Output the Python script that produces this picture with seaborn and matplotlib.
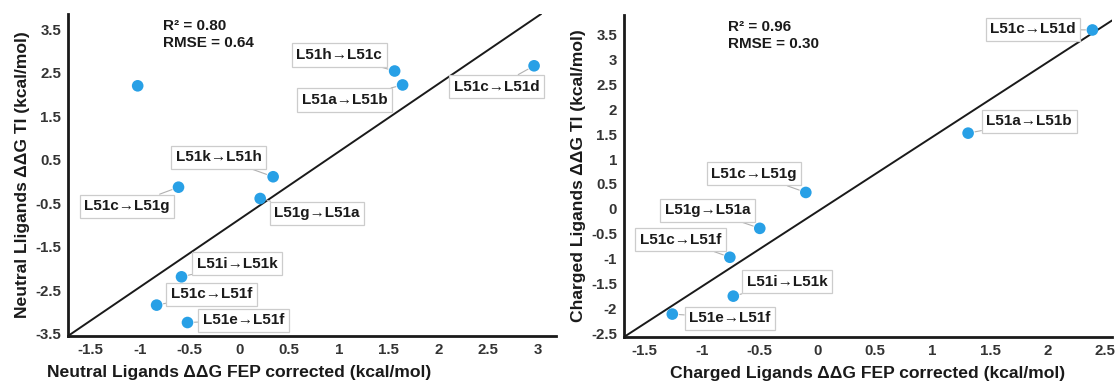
import numpy as np
import pandas as pd
import matplotlib
matplotlib.use("Agg")
import matplotlib.pyplot as plt
from matplotlib.ticker import FuncFormatter
import seaborn as sns

# Neutral ligands panel
neutral_labels = ["", "L51h→L51c", "L51a→L51b", "L51c→L51d", "L51k→L51h",
                  "L51c→L51g", "L51g→L51a", "L51i→L51k", "L51c→L51f", "L51e→L51f"]
neutral_fep = [-1.02, 1.56, 1.64, 2.96, 0.34, -0.61, 0.21, -0.58, -0.83, -0.52]
neutral_ti = [2.20, 2.54, 2.22, 2.66, 0.11, -0.13, -0.39, -2.19, -2.84, -3.24]
neutral_stats = ["R² = 0.80", "RMSE = 0.64"]
neutral_line_x = [-1.72, 3.03]
neutral_line_y = [-3.55, 3.85]

# Charged ligands panel
charged_labels = ["L51c→L51d", "L51a→L51b", "L51c→L51g", "L51g→L51a",
                  "L51c→L51f", "L51i→L51k", "L51e→L51f"]
charged_fep = [2.39, 1.31, -0.10, -0.50, -0.76, -0.73, -1.26]
charged_ti = [3.59, 1.52, 0.33, -0.39, -0.97, -1.75, -2.11]
charged_stats = ["R² = 0.96", "RMSE = 0.30"]
charged_line_x = [-1.68, 2.56]
charged_line_y = [-2.57, 3.78]

# label offsets (points) relative to each marker
neutral_offsets = [None, (-40, 11.5), (-41.6, -10.8), (-27, -15), (-39, 14),
                   (-37, -13.7), (40.8, -10.6), (40, 9.4), (39.7, 7.9), (40.3, 1.7)]
charged_offsets = [(-42.8, 0.5), (44, 8.4), (-37.4, 13.4), (-37.7, 13),
                   (-35.4, 12.7), (38.7, 10.3), (41.5, -2.9)]

DOT = "#28a0e6"
FONTS = ["Liberation Sans", "DejaVu Sans"]


def fmt(v, pos):
    return f"{v:g}"


def draw_panel(ax, fep, ti, labels, offsets, stats, line_x, line_y,
               xlim, ylim, xticks, yticks, xlabel, ylabel, xlabel_x):
    df = pd.DataFrame({"FEP": fep, "TI": ti, "Label": labels})
    ax.plot(line_x, line_y, color="#1a1a1a", lw=1.4, zorder=1)
    sns.scatterplot(data=df, x="FEP", y="TI", ax=ax, color=DOT, s=70,
                    edgecolor="none", zorder=3)
    for (_, row), off in zip(df.iterrows(), offsets):
        if not row["Label"]:
            continue
        ax.annotate(row["Label"], xy=(row["FEP"], row["TI"]), xytext=off,
                    textcoords="offset points", ha="center", va="center",
                    fontsize=11, fontweight="bold", color="#1a1a1a", family=FONTS,
                    bbox=dict(boxstyle="square,pad=0.3", fc="white", ec="#cccccc", lw=0.9),
                    arrowprops=dict(arrowstyle="-", color="#b0b0b0", lw=0.8,
                                    shrinkA=0, shrinkB=5),
                    zorder=4)
    ax.set_xlim(*xlim)
    ax.set_ylim(*ylim)
    ax.set_xticks(xticks)
    ax.set_yticks(yticks)
    ax.xaxis.set_major_formatter(FuncFormatter(fmt))
    ax.yaxis.set_major_formatter(FuncFormatter(fmt))
    ax.tick_params(length=0, pad=5, labelsize=10.8, labelcolor="#333333")
    for lab in ax.get_xticklabels() + ax.get_yticklabels():
        lab.set_fontweight("bold")
    ax.set_xlabel(xlabel, fontsize=12.6, fontweight="bold", color="#1a1a1a", va="center")
    ax.set_ylabel(ylabel, fontsize=12.6, fontweight="bold", color="#1a1a1a", labelpad=4)
    ax.xaxis.set_label_coords(xlabel_x, -0.112)
    sns.despine(ax=ax)
    for side in ["left", "bottom"]:
        ax.spines[side].set_linewidth(2)
        ax.spines[side].set_color("#1a1a1a")
    ax.grid(False)


def main():
    sns.set_theme(style="white")
    plt.rcParams["font.family"] = FONTS

    fig = plt.figure(figsize=(11.16, 3.83), dpi=100)
    ax1 = fig.add_axes([0.0609, 0.1227, 0.4373, 0.8407])
    ax2 = fig.add_axes([0.5591, 0.1201, 0.4373, 0.8407])

    draw_panel(ax1, neutral_fep, neutral_ti, neutral_labels, neutral_offsets,
               neutral_stats, neutral_line_x, neutral_line_y,
               (-1.72, 3.18), (-3.55, 3.85),
               np.arange(-1.5, 3.01, 0.5), np.arange(-3.5, 3.51, 1.0),
               "Neutral Ligands ΔΔG FEP corrected (kcal/mol)",
               "Neutral Lligands ΔΔG TI (kcal/mol)", 0.35)
    draw_panel(ax2, charged_fep, charged_ti, charged_labels, charged_offsets,
               charged_stats, charged_line_x, charged_line_y,
               (-1.68, 2.56), (-2.57, 3.89),
               np.arange(-1.5, 2.51, 0.5), np.arange(-2.5, 3.51, 0.5),
               "Charged Ligands ΔΔG FEP corrected (kcal/mol)",
               "Charged Ligands ΔΔG TI (kcal/mol)", 0.5)

    for ax, stats, x0 in [(ax1, neutral_stats, 0.195), (ax2, charged_stats, 0.213)]:
        ax.text(x0, 0.963, stats[0], transform=ax.transAxes, va="center", ha="left",
                fontsize=11, fontweight="bold", color="#1a1a1a")
        ax.text(x0, 0.910, stats[1], transform=ax.transAxes, va="center", ha="left",
                fontsize=11, fontweight="bold", color="#1a1a1a")

    fig.savefig("out.png", dpi=100)


if __name__ == "__main__":
    main()
